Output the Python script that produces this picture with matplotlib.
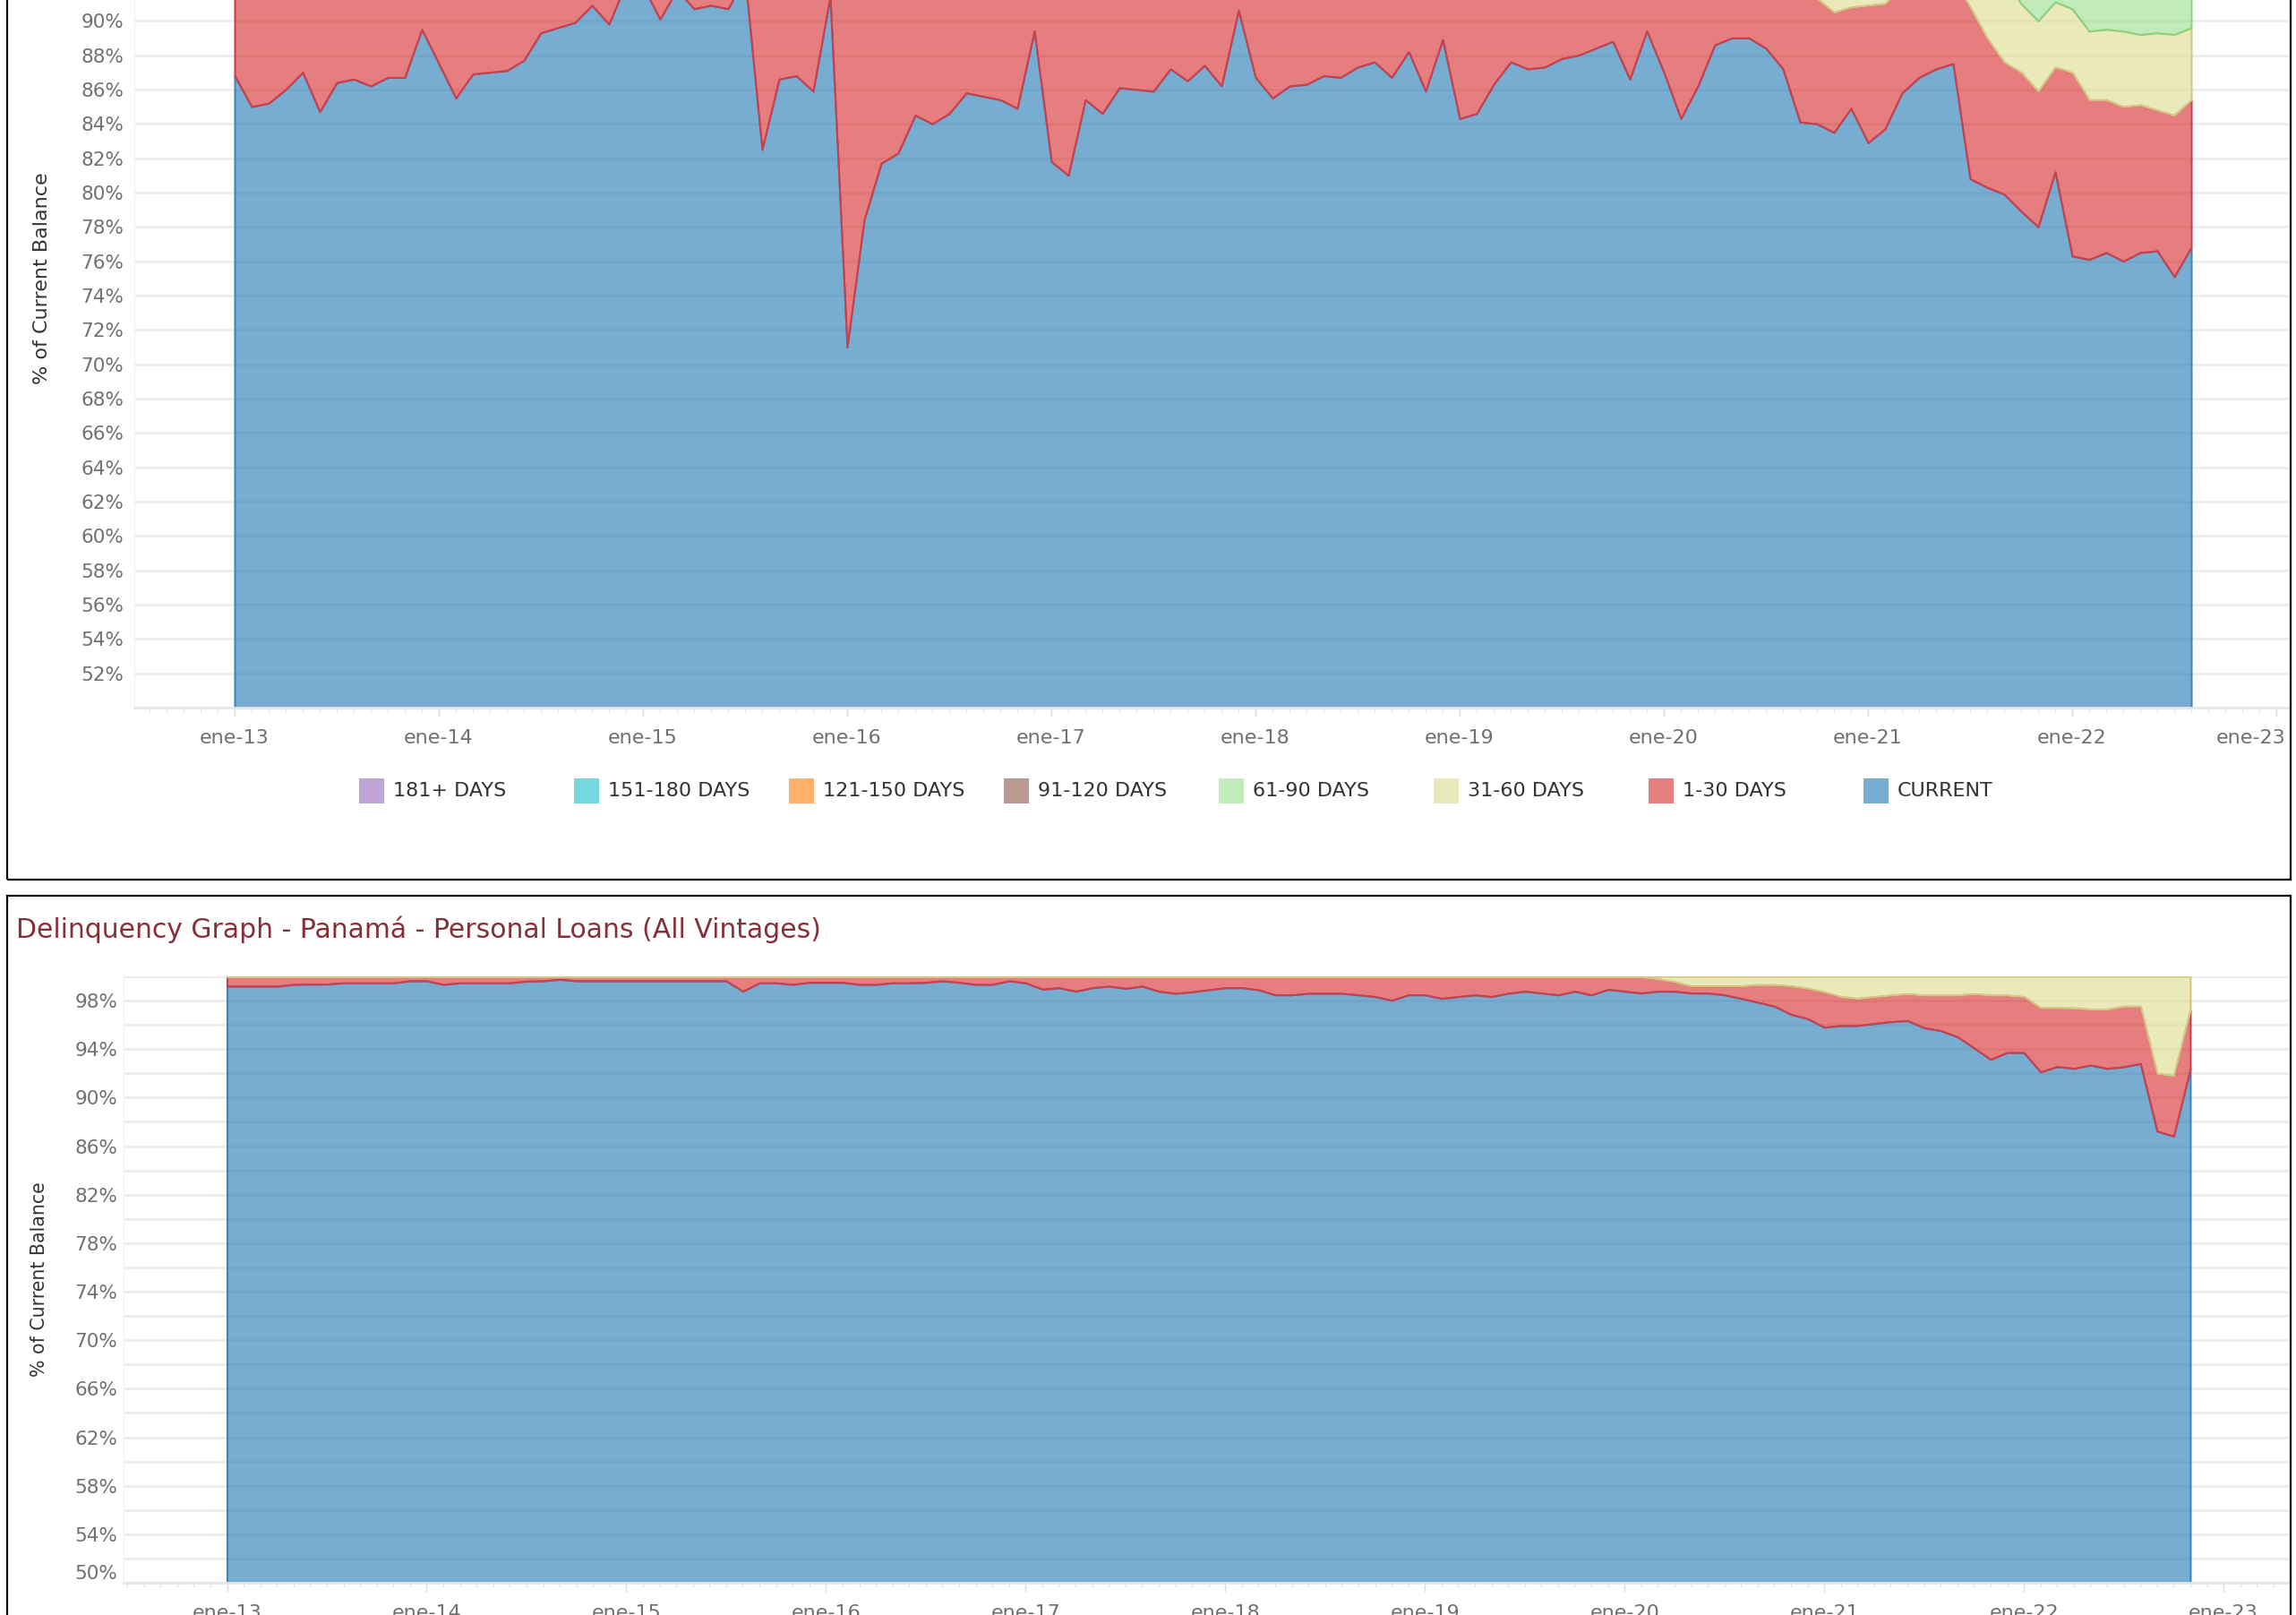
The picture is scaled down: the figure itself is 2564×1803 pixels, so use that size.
import numpy as np
import matplotlib
matplotlib.use('Agg')
import matplotlib.pyplot as plt
from matplotlib.colors import to_rgba
from matplotlib.patches import Rectangle
from matplotlib.ticker import MultipleLocator
from matplotlib.transforms import ScaledTranslation

# legend order (top of the stack first), and the tableau colours behind each bucket
buckets = ['181+ DAYS', '151-180 DAYS', '121-150 DAYS', '91-120 DAYS',
           '61-90 DAYS', '31-60 DAYS', '1-30 DAYS', 'CURRENT']
fill_cols = {'181+ DAYS': '#9467bd', '151-180 DAYS': '#17becf', '121-150 DAYS': '#ff7f0e',
             '91-120 DAYS': '#8c564b', '61-90 DAYS': '#98df8a', '31-60 DAYS': '#dbdb8d',
             '1-30 DAYS': '#d62728', 'CURRENT': '#1f77b4'}
edge_cols = {'61-90 DAYS': '#8ed27e', '31-60 DAYS': '#d6c683',
             '1-30 DAYS': '#c8414f', 'CURRENT': '#3d85bd'}

year_labels = ['ene-13', 'ene-14', 'ene-15', 'ene-16', 'ene-17', 'ene-18',
               'ene-19', 'ene-20', 'ene-21', 'ene-22', 'ene-23']

# ---- upper panel (monthly, ene-13 .. ago-22), % of current balance ----
top_current = [86.8, 85.0, 85.2, 86.0, 87.0, 84.7, 86.4, 86.6, 86.2, 86.7, 86.7, 89.5,
               87.5, 85.5, 86.9, 87.0, 87.1, 87.7, 89.3, 89.6, 89.9, 90.9, 89.8, 92.2,
               92.0, 90.1, 91.8, 90.7, 90.9, 90.7, 92.5, 82.5, 86.6, 86.8, 85.9, 91.4,
               71.0, 78.4, 81.7, 82.3, 84.5, 84.0, 84.6, 85.8, 85.6, 85.4, 84.9, 89.4,
               81.8, 81.0, 85.4, 84.6, 86.1, 86.0, 85.9, 87.2, 86.5, 87.4, 86.2, 90.6,
               86.7, 85.5, 86.2, 86.3, 86.8, 86.7, 87.3, 87.6, 86.7, 88.2, 85.9, 88.9,
               84.3, 84.6, 86.3, 87.6, 87.2, 87.3, 87.8, 88.0, 88.4, 88.8, 86.6, 89.4,
               87.0, 84.3, 86.2, 88.6, 89.0, 89.0, 88.4, 87.2, 84.1, 84.0, 83.5, 84.9,
               82.9, 83.7, 85.8, 86.7, 87.2, 87.5, 80.8, 80.3, 79.9, 78.9, 78.0, 81.2,
               76.3, 76.1, 76.5, 76.0, 76.5, 76.6, 75.1, 76.8]
top_d1_30 = [6.2, 8.0, 7.8, 7.0, 6.0, 8.3, 6.6, 6.4, 6.8, 6.3, 6.3, 3.5,
             5.5, 7.5, 6.1, 6.0, 5.9, 5.3, 3.7, 3.4, 3.1, 2.1, 3.2, 1.5,
             1.5, 2.9, 1.5, 2.3, 2.1, 2.3, 1.5, 10.5, 6.4, 6.2, 7.1, 1.6,
             22.0, 14.6, 11.3, 10.7, 8.5, 9.0, 8.4, 7.2, 7.4, 7.6, 8.1, 3.6,
             11.2, 12.0, 7.6, 8.4, 6.9, 7.0, 7.1, 5.8, 6.5, 5.6, 6.8, 2.4,
             6.3, 7.5, 6.8, 6.7, 6.2, 6.3, 5.7, 5.4, 6.3, 4.8, 7.1, 4.1,
             8.7, 8.4, 6.7, 5.4, 5.8, 5.7, 5.2, 5.0, 4.6, 4.2, 6.4, 3.6,
             6.0, 8.7, 6.8, 4.4, 4.0, 4.0, 4.6, 5.8, 8.9, 7.3, 7.0, 5.9,
             8.0, 7.3, 6.2, 6.3, 5.8, 5.0, 10.0, 8.7, 7.7, 8.1, 7.9, 6.1,
             10.7, 9.3, 8.9, 9.0, 8.6, 8.2, 9.4, 8.6]
top_d31_60 = [3.0] * 93 + [3.5, 3.5, 3.5, 3.5, 3.5, 3.5, 3.5, 3.5, 3.5, 3.5, 4.0, 5.0,
                           4.0, 4.1, 3.8, 3.7, 4.0, 4.1, 4.4, 4.1, 4.5, 4.7, 4.2]
top_d61_90 = [1.5] * 105 + [4.5] * 11

# ---- lower panel: Panamá personal loans (monthly, ene-13 .. nov-22) ----
bot_current = [99.19, 99.19, 99.19, 99.19, 99.33, 99.36, 99.36, 99.46, 99.46, 99.46, 99.46, 99.63,
               99.63, 99.33, 99.46, 99.46, 99.46, 99.46, 99.60, 99.63, 99.75, 99.63, 99.63, 99.63,
               99.63, 99.63, 99.63, 99.63, 99.63, 99.63, 99.63, 98.77, 99.46, 99.46, 99.33, 99.50,
               99.50, 99.50, 99.33, 99.33, 99.46, 99.46, 99.50, 99.63, 99.50, 99.33, 99.33, 99.63,
               99.46, 98.94, 99.06, 98.77, 99.06, 99.19, 99.01, 99.19, 98.77, 98.60, 98.72, 98.89,
               99.06, 99.06, 98.89, 98.47, 98.47, 98.60, 98.60, 98.60, 98.47, 98.33, 98.03, 98.47,
               98.47, 98.18, 98.33, 98.47, 98.33, 98.60, 98.77, 98.62, 98.47, 98.77, 98.47, 98.92,
               98.77, 98.62, 98.77, 98.77, 98.62, 98.62, 98.47, 98.18, 97.86, 97.54, 96.87, 96.50,
               95.81, 95.94, 95.94, 96.11, 96.26, 96.35, 95.76, 95.52, 95.02, 94.09, 93.15, 93.72,
               93.72, 92.12, 92.56, 92.41, 92.68, 92.41, 92.54, 92.81, 87.24, 86.82, 92.36]
bot_d1_30 = [0.81, 0.81, 0.81, 0.81, 0.67, 0.64, 0.64, 0.54, 0.54, 0.54, 0.54, 0.37,
             0.37, 0.67, 0.54, 0.54, 0.54, 0.54, 0.40, 0.37, 0.25, 0.37, 0.37, 0.37,
             0.37, 0.37, 0.37, 0.37, 0.37, 0.37, 0.37, 1.23, 0.54, 0.54, 0.67, 0.50,
             0.50, 0.50, 0.67, 0.67, 0.54, 0.54, 0.50, 0.37, 0.50, 0.67, 0.67, 0.37,
             0.54, 1.06, 0.94, 1.23, 0.94, 0.81, 0.99, 0.81, 1.23, 1.40, 1.28, 1.11,
             0.94, 0.94, 1.11, 1.53, 1.53, 1.40, 1.40, 1.40, 1.53, 1.67, 1.97, 1.53,
             1.53, 1.82, 1.67, 1.53, 1.67, 1.40, 1.23, 1.38, 1.53, 1.23, 1.53, 1.08,
             1.23, 1.33, 1.03, 0.79, 0.59, 0.59, 0.74, 1.03, 1.45, 1.77, 2.34, 2.51,
             2.91, 2.39, 2.24, 2.22, 2.19, 2.22, 2.69, 2.93, 3.43, 4.48, 5.30, 4.73,
             4.61, 5.29, 4.85, 4.98, 4.61, 4.88, 5.00, 4.73, 4.76, 5.00, 4.88]
bot_d31_60 = [0.0] * 85 + [0.05, 0.20, 0.44, 0.79, 0.79, 0.79, 0.79, 0.69, 0.69, 0.79, 0.99,
                           1.28, 1.67, 1.82, 1.67, 1.55, 1.43, 1.55, 1.55, 1.55, 1.43, 1.55, 1.55,
                           1.67, 2.59, 2.59, 2.61, 2.71, 2.71, 2.46, 2.46, 8.00, 8.18, 2.76]

W, H = 2564, 1803
fig = plt.figure(figsize=(W / 100, H / 100), dpi=100)
fig.patch.set_facecolor('white')

tick_grey = '#707070'
text_dark = '#333333'


def draw_panel(ax, layers, label_every, label_max, tick_pad, ylab_x, ylab_size):
    x = np.arange(len(layers[0][1]))
    lower = np.zeros(len(x))
    for name, vals in layers:
        upper = lower + np.array(vals)
        ax.fill_between(x, lower, upper, facecolor=to_rgba(fill_cols[name], 0.6),
                        edgecolor=edge_cols[name], linewidth=1.5, zorder=2)
        lower = upper

    ax.set_ylim(50, 100)
    yt = np.arange(50, 101, 2)
    ax.set_yticks(yt)
    labels = []
    for v in yt:
        show = (v - 50) % label_every == 0 and v <= label_max
        if label_every == 2 and v == 50:
            show = False
        labels.append(f'{v}%' if show else '')
    ax.set_yticklabels(labels)
    ax.yaxis.grid(True, color='#ebebeb', linewidth=1.8)
    ax.set_axisbelow(True)

    ax.set_xticks(np.arange(0, 121, 12))
    ax.set_xticklabels(year_labels)
    ax.xaxis.set_minor_locator(MultipleLocator(1))
    ax.tick_params(axis='x', which='major', length=7, width=1, color='#dddddd',
                   pad=10, labelsize=16, labelcolor=tick_grey)
    ax.tick_params(axis='x', which='minor', length=3.5, width=1, color='#e3e3e3')
    ax.tick_params(axis='y', length=0, pad=tick_pad, labelsize=15.5, labelcolor=tick_grey)

    for side in ['top', 'right']:
        ax.spines[side].set_visible(False)
    ax.spines['left'].set_color('#f0f0f0')
    ax.spines['bottom'].set_color('#e6e6e6')
    ax.spines['bottom'].set_linewidth(2)

    ax.set_ylabel('% of Current Balance', fontsize=ylab_size, color=text_dark)
    ax.yaxis.set_label_coords(ylab_x, 0.5)


# upper panel, its top is cut off by the screenshot
ax1 = fig.add_axes([150 / W, (H - 790) / H, 2406 / W, 958.5 / H])
ax1.set_xlim((150 - 262) / 19.0, (2556 - 262) / 19.0)
draw_panel(ax1, [('CURRENT', top_current), ('1-30 DAYS', top_d1_30),
                 ('31-60 DAYS', top_d31_60), ('61-90 DAYS', top_d61_90)],
           2, 90, 8.5, -0.0387, 16)
# last year label is pulled inside the panel, as tableau does
last = ax1.get_xticklabels()[-1]
last.set_horizontalalignment('right')
last.set_transform(last.get_transform() + ScaledTranslation(0.1, 0, fig.dpi_scale_trans))

# lower panel
ax2 = fig.add_axes([138 / W, (H - 1767) / H, 2418 / W, 677 / H])
ax2.set_xlim((138 - 253.5) / 18.58, (2556 - 253.5) / 18.58)
draw_panel(ax2, [('CURRENT', bot_current), ('1-30 DAYS', bot_d1_30),
                 ('31-60 DAYS', bot_d31_60)],
           4, 98, 5, -0.0346, 14.8)
# bottom label 50% sits a little above its gridline
first = ax2.get_yticklabels()[0]
first.set_transform(first.get_transform() + ScaledTranslation(0, 0.12, fig.dpi_scale_trans))

# legend of the upper panel
for k, name in enumerate(buckets):
    x0 = 401 + 240 * k
    fig.add_artist(Rectangle((x0 / W, (H - 897) / H), 28 / W, 28 / H,
                             transform=fig.transFigure,
                             facecolor=to_rgba(fill_cols[name], 0.6), edgecolor='none'))
    fig.text((x0 + 38) / W, (H - 883) / H, name, fontsize=16, color=text_dark,
             va='center', ha='left')

# dashboard frames
fig.add_artist(Rectangle((8 / W, (H - 982) / H), 2550 / W, 1.2, transform=fig.transFigure,
                         fill=False, edgecolor='black', linewidth=1.6))
fig.add_artist(Rectangle((8 / W, -0.1), 2550 / W, (H - 1000) / H + 0.1,
                         transform=fig.transFigure, fill=False, edgecolor='black',
                         linewidth=1.6))

fig.text(18 / W, (H - 1038) / H, 'Delinquency Graph - Panamá - Personal Loans (All Vintages)',
         fontsize=21.5, color='#833038', va='center', ha='left')

fig.savefig('out.png', dpi=100)
